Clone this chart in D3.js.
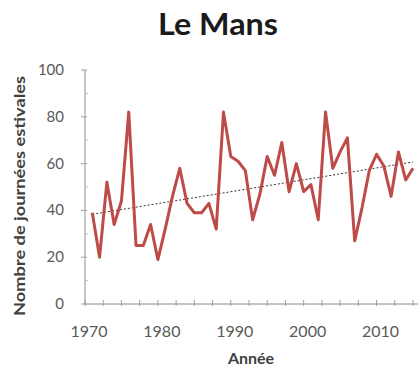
<!DOCTYPE html>
<html><head><meta charset="utf-8">
<script src="https://cdn.jsdelivr.net/npm/d3@7"></script>
<style>body{margin:0;background:#fff}svg{display:block}</style>
</head><body>
<svg id="c" width="418" height="368"></svg>
<script>
const years = d3.range(1971, 2016);
const values = [39,20,52,34,44,82,25,25,34,19,32,46,58,43,39,39,43,32,82,63,61,57,36,47,63,55,69,48,60,48,51,36,82,58,65,71,27,41,57,64,59,46,65,53,58];
const yTicks = [0,20,40,60,80,100];
const xLabels = [1970,1980,1990,2000,2010];
const title = "Le Mans";
const xTitle = "Année";
const yTitle = "Nombre de journées estivales";

const svg = d3.select("#c");
const x = d3.scaleLinear().domain([1970, 2015]).range([85, 413]);
const y = d3.scaleLinear().domain([0, 100]).range([304, 70]);
const data = years.map((yr, i) => ({yr, v: values[i]}));

// axes
svg.append("line").attr("x1", x(1970)).attr("x2", 418).attr("y1", y(0)).attr("y2", y(0))
  .attr("stroke", "#8c8c8c").attr("stroke-width", 1);
svg.append("line").attr("x1", x(1970)).attr("x2", x(1970)).attr("y1", y(0)).attr("y2", y(100))
  .attr("stroke", "#8c8c8c").attr("stroke-width", 1);
// x ticks
const xt = d3.range(1970, 2015.1, 2.5);
svg.selectAll(".xt").data(xt).join("line")
  .attr("x1", d => x(d)).attr("x2", d => x(d))
  .attr("y1", y(0) - 4).attr("y2", y(0) + 2)
  .attr("stroke", "#a0a0a0");
// y ticks
svg.selectAll(".yt").data(d3.range(0, 101, 20)).join("line")
  .attr("x1", x(1970) - 4).attr("x2", x(1970) + 2)
  .attr("y1", d => y(d)).attr("y2", d => y(d)).attr("stroke", "#a0a0a0");
svg.selectAll(".ytm").data(d3.range(10, 100, 20)).join("line")
  .attr("x1", x(1970)).attr("x2", x(1970) + 3)
  .attr("y1", d => y(d)).attr("y2", d => y(d)).attr("stroke", "#c0c0c0");

svg.selectAll(".yl").data(yTicks).join("text")
  .attr("x", 64).attr("y", d => y(d) + 5).attr("text-anchor", "end")
  .attr("font-family", "Lato, sans-serif").attr("font-size", 15).attr("fill", "#595959")
  .text(d => d);
svg.selectAll(".xl").data(xLabels).join("text")
  .attr("x", d => x(d) + 4).attr("y", 337).attr("text-anchor", "middle")
  .attr("font-family", "Lato, sans-serif").attr("font-size", 16).attr("fill", "#595959")
  .text(d => d);

// trend line (least squares)
const mx = d3.mean(data, d => d.yr), my = d3.mean(data, d => d.v);
const b = d3.sum(data, d => (d.yr - mx) * (d.v - my)) / d3.sum(data, d => (d.yr - mx) ** 2);
const a = my - b * mx;
const tr = [1971, 2015].map(t => ({yr: t, v: a + b * t}));
svg.append("path").datum(tr)
  .attr("d", d3.line().x(d => x(d.yr)).y(d => y(d.v)))
  .attr("fill", "none").attr("stroke", "#333").attr("stroke-width", 1)
  .attr("stroke-dasharray", "2,2");

// series
svg.append("path").datum(data)
  .attr("d", d3.line().x(d => x(d.yr)).y(d => y(d.v)))
  .attr("fill", "none").attr("stroke", "#be4b48").attr("stroke-width", 3)
  .attr("stroke-linejoin", "round");

svg.append("text").attr("x", 218).attr("y", 35).attr("text-anchor", "middle")
  .attr("font-family", "Lato, sans-serif").attr("font-weight", "bold").attr("font-size", 30)
  .attr("textLength", 120).attr("lengthAdjust", "spacingAndGlyphs")
  .attr("fill", "#1a1a1a").text(title);
svg.append("text").attr("x", 251).attr("y", 364).attr("text-anchor", "middle")
  .attr("font-family", "Lato, sans-serif").attr("font-weight", "bold").attr("font-size", 16)
  .attr("fill", "#404040").text(xTitle);
svg.append("text").attr("transform", "translate(25,196) rotate(-90)").attr("text-anchor", "middle")
  .attr("font-family", "Lato, sans-serif").attr("font-weight", "bold").attr("font-size", 16)
  .attr("textLength", 240).attr("lengthAdjust", "spacingAndGlyphs")
  .attr("fill", "#404040").text(yTitle);
</script>
</body></html>
